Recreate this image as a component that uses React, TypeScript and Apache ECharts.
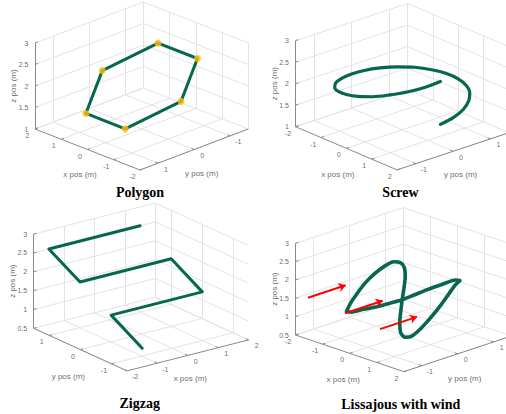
import React, { useEffect, useRef } from "react";
import * as echarts from "echarts";

// ---------- data (3D values) ----------
const polyX = [0.75, -0.75, -1.5, -0.75, 0.75, 1.5];
const polyY = [-1.0, -1.0, 0, 1.0, 1.0, 0];
const polyZ = [2.5, 2.5, 2.0, 1.5, 1.5, 2.0];

const screwX = [1.5, 1.45, 1.3, 1.06, 0.75, 0.39, 0, -0.39, -0.75, -1.06, -1.3, -1.45, -1.5, -1.45, -1.3, -1.06, -0.75, -0.39, 0, 0.39, 0.75, 1.06, 1.3, 1.45, 1.5];
const screwY = [0, 0.39, 0.75, 1.06, 1.3, 1.45, 1.5, 1.45, 1.3, 1.06, 0.75, 0.39, 0, -0.39, -0.75, -1.06, -1.3, -1.45, -1.5, -1.45, -1.3, -1.06, -0.75, -0.39, 0];
const screwZ = [1.5, 1.54, 1.58, 1.63, 1.67, 1.71, 1.75, 1.79, 1.83, 1.88, 1.92, 1.96, 2.0, 2.04, 2.08, 2.13, 2.17, 2.21, 2.25, 2.29, 2.33, 2.38, 2.42, 2.46, 2.5];

const zigX = [1.5, -1.5, -1.5, 1.5, 1.5, -1.5, -1.5];
const zigY = [1.5, 1.5, 0.5, 0.5, -0.5, -0.5, -1.5];
const zigZ = [2.5, 2.5, 2.0, 2.0, 1.5, 1.5, 1.0];

const lissX = [-0.28, -0.26, -0.23, -0.19, -0.14, -0.09, -0.05, -0.01, 0, 0.01, 0, -0.01, -0.01, -0.02, -0.01, 0.01, 0.04, 0.08, 0.13, 0.18, 0.22, 0.25, 0.27, 0.25, 0.19, 0.11, 0.05, -0.01, -0.07, -0.13, -0.19, -0.25, -0.28];
const lissY = [-1.38, -1.28, -1.13, -0.93, -0.69, -0.45, -0.23, -0.07, 0.02, 0.04, 0.01, -0.03, -0.07, -0.09, -0.07, 0.04, 0.2, 0.4, 0.64, 0.88, 1.11, 1.27, 1.37, 1.25, 0.96, 0.56, 0.24, -0.03, -0.33, -0.65, -0.97, -1.25, -1.38];
const lissZ = [1.53, 1.73, 1.94, 2.18, 2.38, 2.52, 2.57, 2.5, 2.35, 2.09, 1.78, 1.48, 1.17, 0.9, 0.59, 0.44, 0.43, 0.56, 0.79, 1.06, 1.35, 1.55, 1.62, 1.67, 1.64, 1.59, 1.53, 1.48, 1.47, 1.46, 1.48, 1.48, 1.53];

const windX = [-1.54, -0.17, 1.12];
const windY = [-1.5, -1.5, -1.5];
const windZ = [1.63, 1.55, 1.44];
const windU = [0, 0, 0];
const windV = [1.05, 1.05, 1.03];
const windW = [0, 0, 0];

const xTicks = [-2, -1, 0, 1, 2];
const yTicks = [-1, 0, 1];
const zTicksHigh = [1, 1.5, 2, 2.5, 3];
const zTicksLow = [0.5, 1, 1.5, 2, 2.5, 3];
const titles = ["Polygon", "Screw", "Zigzag", "Lissajous with wind"];

// ---------- layout of the four 3D boxes (orthographic views) ----------
type V2 = [number, number];
interface Plot {
  xr: V2; yr: V2; zr: V2; zt: number[];
  ref: [number, number, number]; o: V2; ex: V2; ey: V2; ez: V2;
  xTitleOff: V2; yTitleOff: V2; titlePos: V2;
}
const plots: Plot[] = [
  { xr: [-2, 2], yr: [-1.5, 1.5], zr: [1, 3], zt: zTicksHigh, ref: [2, 1.5, 1], o: [35, 129], ex: [-26.25, -10.25], ey: [-36.1, 13.67], ez: [0, -43], xTitleOff: [-7.5, 25], yTitleOff: [7.5, 24.5], titlePos: [140, 192] },
  { xr: [-2, 2], yr: [-1.5, 1.5], zr: [1, 3], zt: zTicksHigh, ref: [-2, -1.5, 1], o: [295.5, 126.7], ex: [25.4, 10.8], ey: [37.3, -12.4], ez: [0, -43], xTitleOff: [-8.5, 26], yTitleOff: [7.5, 23.5], titlePos: [400.5, 192] },
  { xr: [-2, 2], yr: [-1.5, 1.5], zr: [0.5, 3], zt: zTicksLow, ref: [-2, 1.5, 0.5], o: [33.7, 328.3], ex: [30.4, -7.75], ey: [-31.1, -14.2], ez: [0, -37.7], xTitleOff: [2.5, 23.5], yTitleOff: [-12, 26.4], titlePos: [139.7, 403.5] },
  { xr: [-2, 2], yr: [-1.5, 1.5], zr: [0.5, 3], zt: zTicksLow, ref: [-2, -1.5, 0.5], o: [295.5, 335], ex: [27.1, 9.17], ey: [35.9, -11.9], ez: [0, -36.7], xTitleOff: [-6.5, 25.7], yTitleOff: [7, 25], titlePos: [400.8, 404] },
];

const GREEN = "#07664f";
const YELLOW = "#f9be0a";
const GRID = "#e3e3e3";
const AXIS = "#8a8a8a";
const TXT = "#404040";
const SANS = "'Liberation Sans', Arial, sans-serif";

function P(pl: Plot, x: number, y: number, z: number): V2 {
  const dx = x - pl.ref[0], dy = y - pl.ref[1], dz = z - pl.ref[2];
  return [
    pl.o[0] + dx * pl.ex[0] + dy * pl.ey[0] + dz * pl.ez[0],
    pl.o[1] + dx * pl.ex[1] + dy * pl.ey[1] + dz * pl.ez[1],
  ];
}
function inward(a: V2, b: V2, len: number): V2 {
  const dx = b[0] - a[0], dy = b[1] - a[1];
  const n = Math.hypot(dx, dy) || 1;
  return [a[0] + (dx / n) * len, a[1] + (dy / n) * len];
}

function buildOption() {
  const gridSegs: any[] = [];
  const axisSegs: any[] = [];
  const centerLabels: any[] = [];
  const rightLabels: any[] = [];
  const axisTitles: any[] = [];
  const zTitles: any[] = [];
  const graphics: any[] = [];

  plots.forEach((pl, idx) => {
    const [x0, x1] = pl.xr, [y0, y1] = pl.yr, [z0, z1] = pl.zr;
    const corners: V2[] = [[x0, y0], [x0, y1], [x1, y0], [x1, y1]];
    let front = corners[0];
    corners.forEach((c) => { if (P(pl, c[0], c[1], z0)[1] > P(pl, front[0], front[1], z0)[1]) front = c; });
    const xf = front[0], yf = front[1];
    const xb = xf === x0 ? x1 : x0, yb = yf === y0 ? y1 : y0;
    const cA: V2 = [xb, yf], cB: V2 = [xf, yb];
    const left = P(pl, cA[0], cA[1], z0)[0] < P(pl, cB[0], cB[1], z0)[0] ? cA : cB;

    // grid on floor and the two back walls
    xTicks.forEach((t) => {
      gridSegs.push({ coords: [P(pl, t, y0, z0), P(pl, t, y1, z0)] });
      gridSegs.push({ coords: [P(pl, t, yb, z0), P(pl, t, yb, z1)] });
    });
    yTicks.forEach((t) => {
      gridSegs.push({ coords: [P(pl, x0, t, z0), P(pl, x1, t, z0)] });
      gridSegs.push({ coords: [P(pl, xb, t, z0), P(pl, xb, t, z1)] });
    });
    pl.zt.forEach((t) => {
      gridSegs.push({ coords: [P(pl, xb, y0, t), P(pl, xb, y1, t)] });
      gridSegs.push({ coords: [P(pl, x0, yb, t), P(pl, x1, yb, t)] });
    });

    // axis lines
    axisSegs.push({ coords: [P(pl, left[0], left[1], z0), P(pl, left[0], left[1], z1)] });
    axisSegs.push({ coords: [P(pl, x0, yf, z0), P(pl, x1, yf, z0)] });
    axisSegs.push({ coords: [P(pl, xf, y0, z0), P(pl, xf, y1, z0)] });

    const xLeft = P(pl, xb, yf, z0)[0] < P(pl, xf, yf, z0)[0];
    const yLeft = P(pl, xf, yb, z0)[0] < P(pl, xf, yf, z0)[0];
    const off = (l: boolean): V2 => (l ? [-7.5, 6.5] : [8, 6]);

    xTicks.forEach((t) => {
      const a = P(pl, t, yf, z0);
      axisSegs.push({ coords: [a, inward(a, P(pl, t, yb, z0), 3)] });
      const o = off(xLeft);
      centerLabels.push({ name: String(t), value: [a[0] + o[0], a[1] + o[1]] });
    });
    yTicks.forEach((t) => {
      const a = P(pl, xf, t, z0);
      axisSegs.push({ coords: [a, inward(a, P(pl, xb, t, z0), 3)] });
      const o = off(yLeft);
      centerLabels.push({ name: String(t), value: [a[0] + o[0], a[1] + o[1]] });
    });
    pl.zt.forEach((t) => {
      const a = P(pl, left[0], left[1], t);
      axisSegs.push({ coords: [a, inward(a, P(pl, xb, yb, t), 3)] });
      rightLabels.push({ name: String(t), value: [a[0] - 6.5, a[1]] });
    });

    const xm = P(pl, (x0 + x1) / 2, yf, z0);
    axisTitles.push({ name: "x pos (m)", value: [xm[0] + pl.xTitleOff[0], xm[1] + pl.xTitleOff[1]] });
    const ym = P(pl, xf, (y0 + y1) / 2, z0);
    axisTitles.push({ name: "y pos (m)", value: [ym[0] + pl.yTitleOff[0], ym[1] + pl.yTitleOff[1]] });
    const zm = P(pl, left[0], left[1], (z0 + z1) / 2);
    zTitles.push({ name: "z pos (m)", value: [zm[0] - 21.5, zm[1]] });

    graphics.push({
      type: "text", x: pl.titlePos[0], y: pl.titlePos[1], silent: true,
      style: { text: titles[idx], textAlign: "center", textVerticalAlign: "middle", fill: "#000", font: "bold 14px 'Liberation Serif', 'Times New Roman', serif" },
    });
  });

  const [pp, ps, pz, plis] = plots;
  const polyPts = polyX.map((x, i) => P(pp, x, polyY[i], polyZ[i]));
  const polyLine = [...polyPts, polyPts[0]];
  const screwPts = screwX.map((x, i) => P(ps, x, screwY[i], screwZ[i]));
  const zigPts = zigX.map((x, i) => P(pz, x, zigY[i], zigZ[i]));
  const lissPts = lissX.map((x, i) => P(plis, x, lissY[i], lissZ[i]));
  const windSegs = windX.map((x, i) => ({
    coords: [P(plis, x, windY[i], windZ[i]), P(plis, x + windU[i], windY[i] + windV[i], windZ[i] + windW[i])],
  }));

  const greenLine = (data: V2[], smooth: number | boolean, width: number) => ({
    type: "line", data, smooth, showSymbol: false, silent: true, z: 3, clip: false,
    lineStyle: { color: GREEN, width, cap: "round", join: "round" },
  });
  const labelSeries = (data: any[], extra: any) => ({
    type: "scatter", data, symbolSize: 1, silent: true, z: 6,
    itemStyle: { color: "rgba(0,0,0,0)" },
    label: { show: true, position: "inside", formatter: "{b}", color: TXT, fontSize: 7, fontFamily: SANS, ...extra },
  });

  return {
    animation: false,
    backgroundColor: "#ffffff",
    grid: { left: 0, right: 0, top: 0, bottom: 0, show: false },
    xAxis: { type: "value", min: 0, max: 506, show: false },
    yAxis: { type: "value", min: 0, max: 414, inverse: true, show: false },
    graphic: graphics,
    series: [
      { type: "lines", coordinateSystem: "cartesian2d", data: gridSegs, silent: true, z: 1, lineStyle: { color: GRID, width: 1, opacity: 1 } },
      { type: "lines", coordinateSystem: "cartesian2d", data: axisSegs, silent: true, z: 2, lineStyle: { color: AXIS, width: 1, opacity: 1 } },
      greenLine(polyLine, false, 3),
      greenLine(screwPts, 0.3, 3.2),
      greenLine(zigPts, false, 3),
      greenLine(lissPts, 0.25, 3.6),
      { type: "scatter", data: polyPts, symbol: "circle", symbolSize: 7, silent: true, z: 4, itemStyle: { color: YELLOW } },
      {
        type: "lines", coordinateSystem: "cartesian2d", data: windSegs, silent: true, z: 5,
        symbol: ["none", "arrow"], symbolSize: 7,
        lineStyle: { color: "#ff0000", width: 2, opacity: 1 },
      },
      labelSeries(centerLabels, {}),
      labelSeries(rightLabels, { align: "right" }),
      labelSeries(axisTitles, { fontSize: 8 }),
      labelSeries(zTitles, { fontSize: 8, rotate: 90 }),
    ],
  };
}

export default function App() {
  const ref = useRef<HTMLDivElement>(null);
  useEffect(() => {
    if (!ref.current) return;
    const chart = echarts.init(ref.current, undefined, { renderer: "svg" });
    chart.setOption(buildOption() as any);
    return () => chart.dispose();
  }, []);
  return (
    <div
      ref={ref}
      style={{ position: "absolute", left: 0, top: 0, width: 506, height: 414, background: "#ffffff" }}
    />
  );
}
